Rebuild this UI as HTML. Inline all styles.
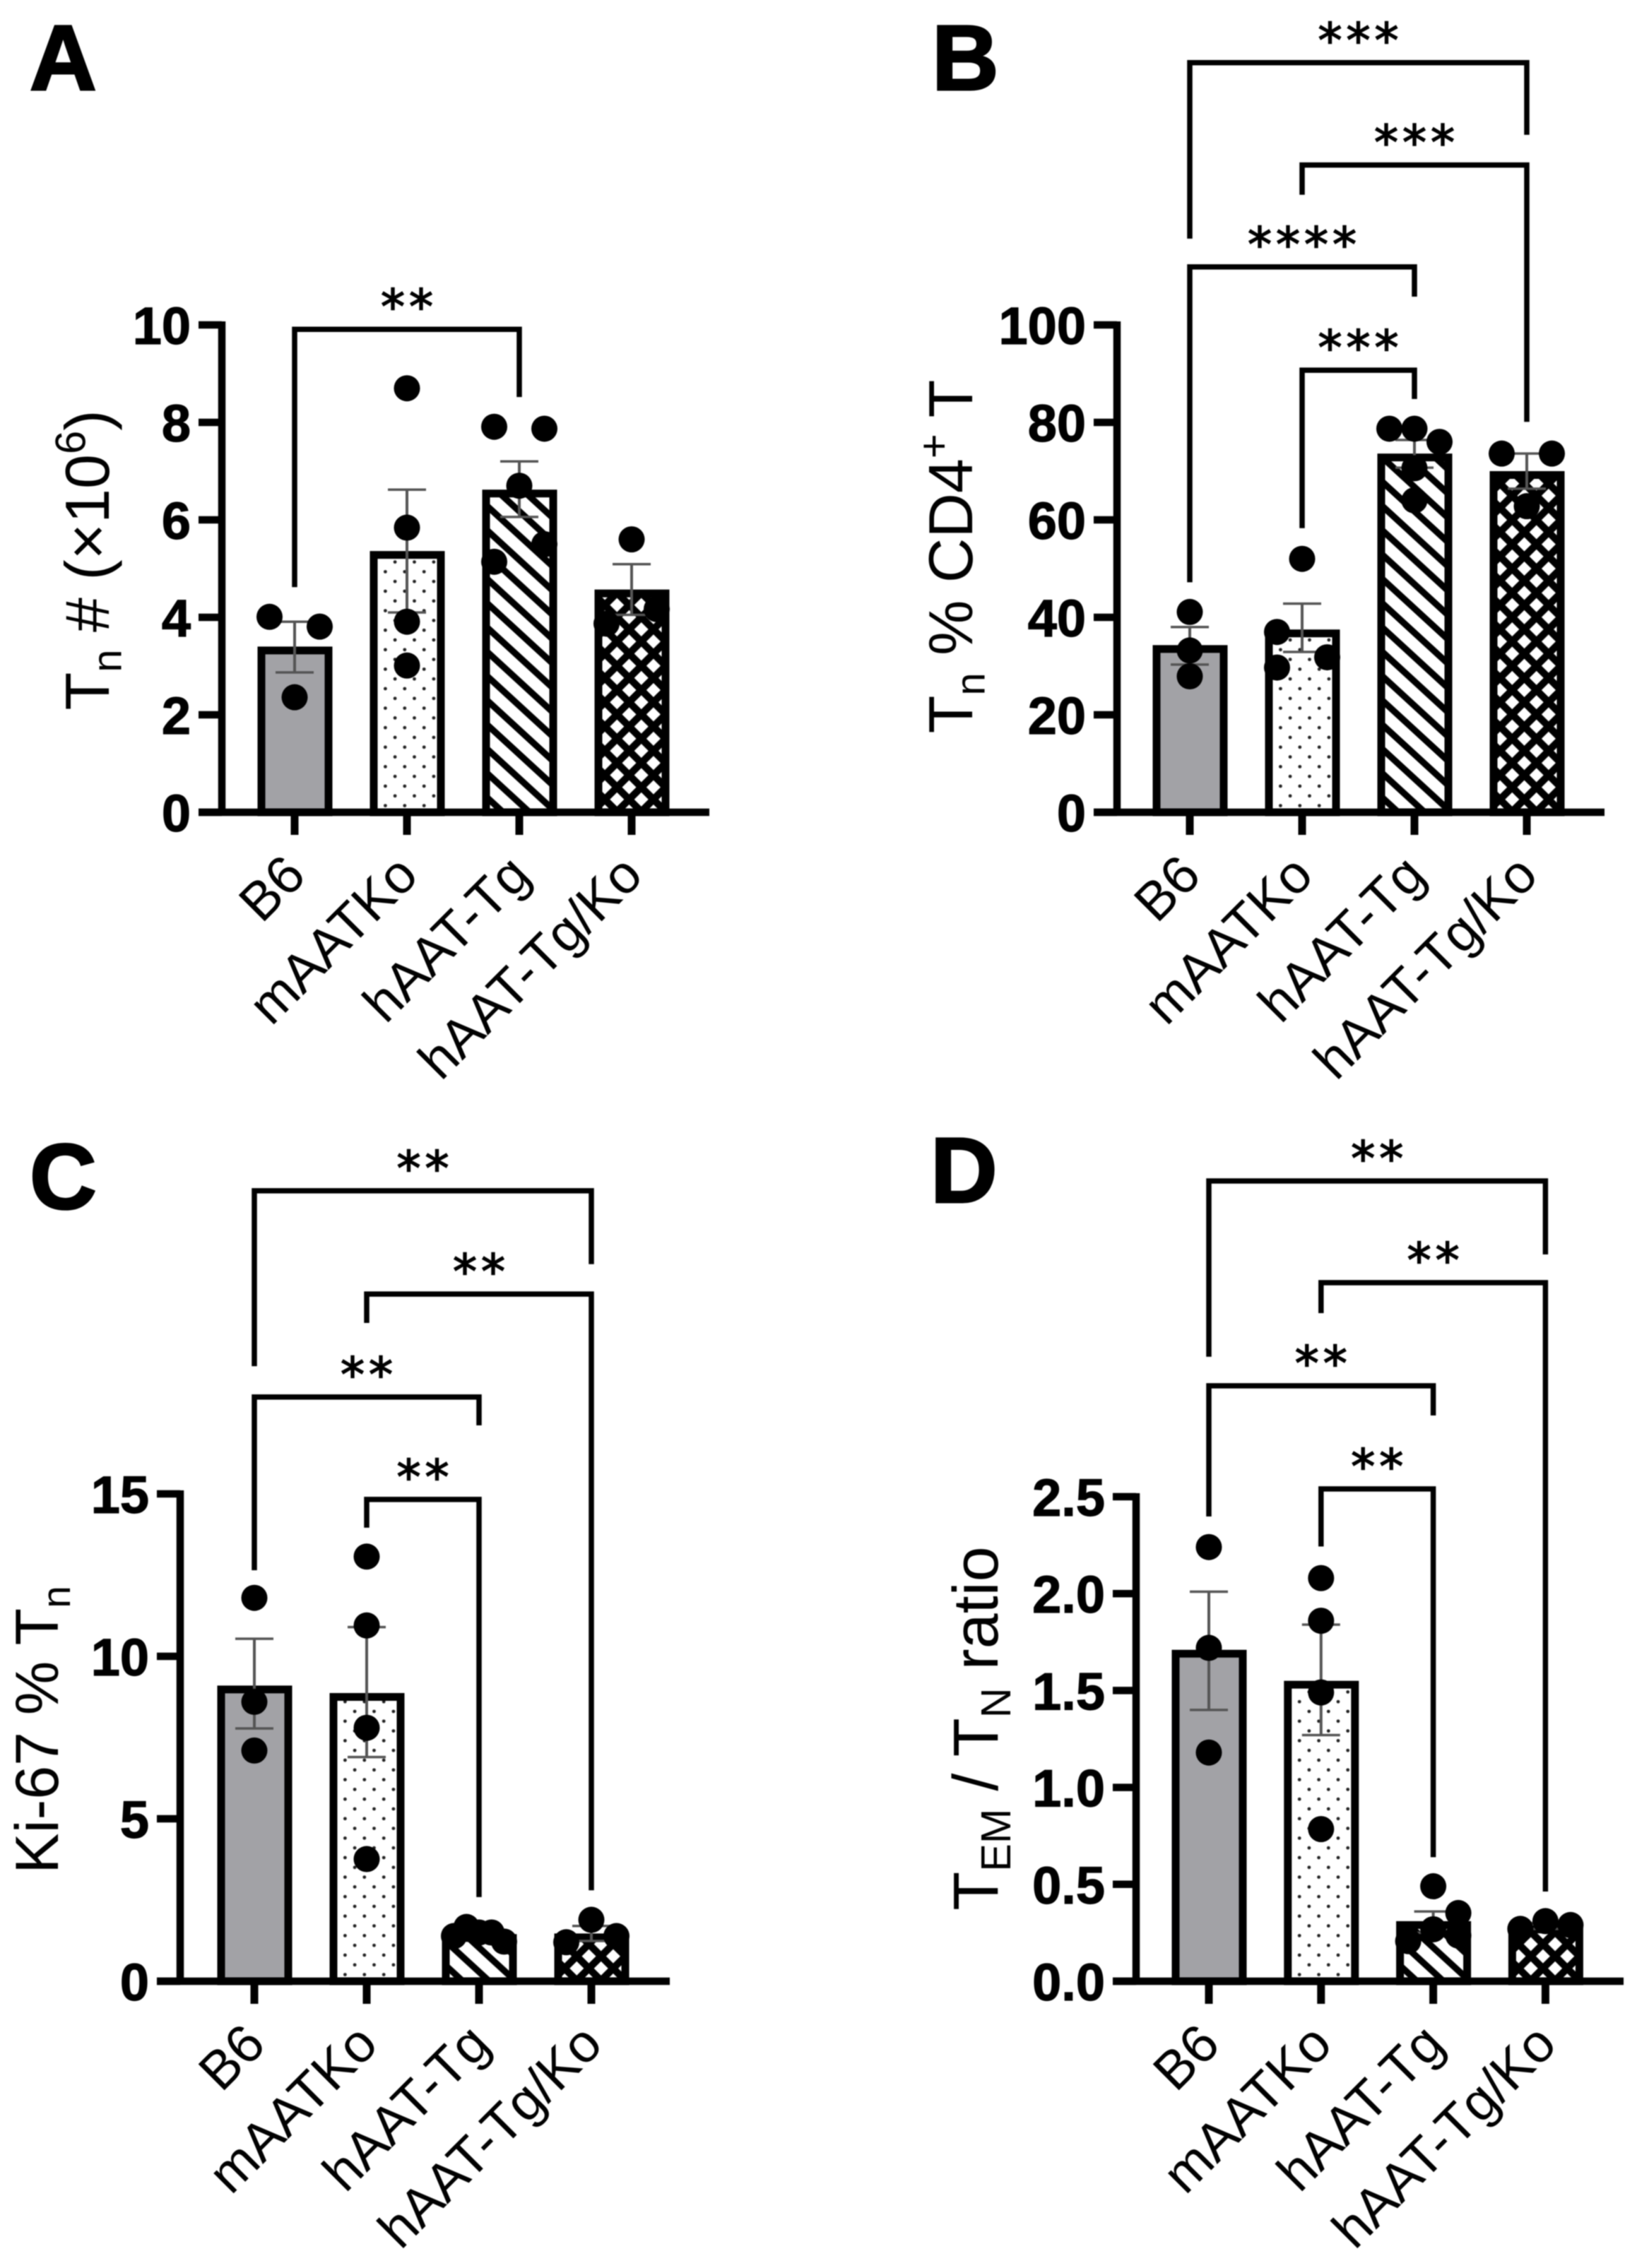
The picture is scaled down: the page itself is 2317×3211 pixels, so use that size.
<!DOCTYPE html>
<html lang="en">
<head>
<meta charset="utf-8">
<title>T cell panels A-D</title>
<style>
html,body{margin:0;padding:0;background:#fff;}
svg{display:block;filter:blur(0.7px);}
text{font-family:"Liberation Sans",Arial,sans-serif;fill:#000;}
</style>
</head>
<body>
<svg id="fig" xmlns="http://www.w3.org/2000/svg" width="2317" height="3211" viewBox="0 0 2317 3211">
<rect x="0" y="0" width="2317" height="3211" fill="#fff"/>
<defs>
<pattern id="fill-dots" patternUnits="userSpaceOnUse" width="27.4" height="27.6" patternTransform="translate(21.9,-9.4)">
<rect width="27.4" height="27.6" fill="#fff"/>
<circle cx="0" cy="0" r="2.4" fill="#222"/>
<circle cx="27.4" cy="0" r="2.4" fill="#222"/>
<circle cx="0" cy="27.6" r="2.4" fill="#222"/>
<circle cx="27.4" cy="27.6" r="2.4" fill="#222"/>
<circle cx="13.7" cy="13.8" r="2.4" fill="#222"/>
</pattern>
<pattern id="fill-stripes" patternUnits="userSpaceOnUse" width="37.4" height="34.4" patternTransform="translate(0,7.2)">
<rect width="37.4" height="34.4" fill="#fff"/>
<path d="M-37.4,-34.4L74.8,68.8M-37.4,0L37.4,68.8M0,-34.4L74.8,34.4" stroke="#000" stroke-width="9.2" fill="none"/>
</pattern>
<pattern id="fill-cross" patternUnits="userSpaceOnUse" width="34.4" height="34.4" patternTransform="translate(14.6,-1)">
<rect width="34.4" height="34.4" fill="#000"/>
<path d="M17.2,7.2L27.2,17.2L17.2,27.2L7.2,17.2Z" fill="#fff"/>
<path d="M0,-10L10,0L0,10L-10,0Z" fill="#fff"/>
<path d="M34.4,-10L44.4,0L34.4,10L24.4,0Z" fill="#fff"/>
<path d="M0,24.4L10,34.4L0,44.4L-10,34.4Z" fill="#fff"/>
<path d="M34.4,24.4L44.4,34.4L34.4,44.4L24.4,34.4Z" fill="#fff"/>
</pattern>
</defs>
</svg>
<script>
const categories = ["B6", "mAATKo", "hAAT-Tg", "hAAT-Tg/Ko"];
const barFills = ["#a2a2a6", "url(#fill-dots)", "url(#fill-stripes)", "url(#fill-cross)"];

// Panel A
const aTicks = [0, 2, 4, 6, 8, 10];
const aTickLabels = ["0", "2", "4", "6", "8", "10"];
const aMeans = [3.4, 5.36, 6.62, 4.57];
const aErrHigh = [3.91, 6.62, 7.2, 5.09];
const aErrLow = [2.87, 4.1, 6.06, 4.05];
const aPoints = [[4.01, 3.81, 2.36], [8.7, 5.84, 3.91, 3.01], [7.91, 7.87, 6.7, 5.5, 5.14], [5.6, 3.87, 4.17]];
const aSlots = [[-1, 1, 0], [0, 0, 0, 0], [-1, 1, 0, 1, -1], [0, -1, 1]];
const aBracketFrom = [0];
const aBracketTo = [2];
const aBracketLevel = [9.91];
const aBracketEndLeft = [4.62];
const aBracketEndRight = [8.52];
const aBracketStars = ["**"];

// Panel B
const bTicks = [0, 20, 40, 60, 80, 100];
const bTickLabels = ["0", "20", "40", "60", "80", "100"];
const bMeans = [34.3, 37.5, 73.6, 70];
const bErrHigh = [38, 42.8, 76.4, 73.6];
const bErrLow = [30.3, 32.9, 70.7, 66.4];
const bPoints = [[41.1, 33.2, 27.9], [52, 37, 31.8, 29.7], [78.7, 78.7, 76, 70.6, 64], [73.6, 73.6, 62.8]];
const bSlots = [[0, 0, 0], [0, -1, 1, -1], [-1, 0, 1, 0, 0], [-1, 1, 0]];
const bBracketFrom = [0, 1, 0, 1];
const bBracketTo = [3, 3, 2, 2];
const bBracketLevel = [153.8, 132.8, 111.9, 90.7];
const bBracketEndLeft = [117.7, 126.7, 47.2, 58.3];
const bBracketEndRight = [139, 80.1, 105.8, 84.8];
const bBracketStars = ["***", "***", "****", "***"];

// Panel C
const cTicks = [0, 5, 10, 15];
const cTickLabels = ["0", "5", "10", "15"];
const cMeans = [9.1, 8.87, 1.45, 1.47];
const cErrHigh = [10.54, 10.9, 1.55, 1.7];
const cErrLow = [7.78, 6.9, 1.35, 1.24];
const cPoints = [[11.8, 8.6, 7.1], [13.07, 10.95, 7.8, 3.76], [1.39, 1.67, 1.5, 1.5, 1.22], [1.89, 1.2, 1.39]];
const cSlots = [[0, 0, 0], [0, 0, 0, 0], [-1, -0.5, 0, 0.5, 1], [0, -1, 1]];
const cBracketFrom = [0, 1, 0, 1];
const cBracketTo = [3, 3, 2, 2];
const cBracketLevel = [24.33, 21.15, 17.98, 14.83];
const cBracketEndLeft = [18.93, 20.26, 12.65, 13.96];
const cBracketEndRight = [22.07, 2.8, 17.11, 2.59];
const cBracketStars = ["**", "**", "**", "**"];

// Panel D
const dTicks = [0, 0.5, 1, 1.5, 2, 2.5];
const dTickLabels = ["0.0", "0.5", "1.0", "1.5", "2.0", "2.5"];
const dMeans = [1.71, 1.55, 0.31, 0.287];
const dErrHigh = [2.01, 1.84, 0.36, 0.3];
const dErrLow = [1.4, 1.27, 0.25, 0.27];
const dPoints = [[2.24, 1.72, 1.18], [2.08, 1.86, 1.49, 0.785], [0.49, 0.352, 0.268, 0.207, 0.236], [0.27, 0.31, 0.29]];
const dSlots = [[0, 0, 0], [0, 0, 0, 0], [0, 1, 0, -1, 1], [-1, 0, 1]];
const dBracketFrom = [0, 1, 0, 1];
const dBracketTo = [3, 3, 2, 2];
const dBracketLevel = [4.129, 3.604, 3.072, 2.54];
const dBracketEndLeft = [3.222, 3.447, 2.398, 2.243];
const dBracketEndRight = [3.75, 0.463, 2.919, 0.64];
const dBracketStars = ["**", "**", "**", "**"];

const aTitle = [["T", ""], ["n", "sub"], [" # (\u00d710", ""], ["6", "sup"], [")", ""]];
const bTitle = [["T", ""], ["n", "sub"], [" % CD4", ""], ["+", "sup"], [" T", ""]];
const cTitle = [["Ki-67 % T", ""], ["n", "sub"]];
const dTitle = [["T", ""], ["EM", "sub"], [" / T", ""], ["N", "sub"], [" ratio", ""]];

const NS = "http://www.w3.org/2000/svg";
const fig = document.getElementById("fig");

function svgEl(tag, attrs, parent) {
  const el = document.createElementNS(NS, tag);
  for (const k in attrs) el.setAttribute(k, attrs[k]);
  parent.appendChild(el);
  return el;
}

function drawPanel(p) {
  const y = v => p.y0 - (v - p.min) * (p.y0 - p.yTop) / (p.max - p.min);
  const x = i => p.x0 + i * p.step;
  const swarmX = (i, s) => x(i) + s * 35.5;

  const g = svgEl("g", {}, fig);
  
  

  const letter = svgEl("text", { x: p.letterX, y: p.letterY, "font-size": 131, "font-weight": "bold", stroke: "#000", "stroke-width": 3 }, g);
  
  
  letter.textContent = p.id;

  // bars
  p.means.forEach((m, i) => {
    const bg = svgEl("g", { transform: "translate(" + (x(i) - 52.5) + "," + p.y0 + ")" }, g);
    
    
    const h = p.y0 - y(m);
    const bar = svgEl("rect", { x: 5.5, y: -h + 5.5, width: 95, height: Math.max(h - 5.5, 0), fill: barFills[i], stroke: "#000", "stroke-width": 11 }, bg);
    
    
  });

  // axes
  const yAxis = svgEl("line", { x1: p.axisX, x2: p.axisX, y1: p.yTop - 5, y2: p.y0 + 5, stroke: "#000", "stroke-width": 10.5 }, g);
  
  
  const xAxis = svgEl("line", { x1: p.axisX - 33, x2: p.axisEnd, y1: p.y0, y2: p.y0, stroke: "#000", "stroke-width": 10.5 }, g);
  
  

  p.ticks.forEach((t, i) => {
    const tick = svgEl("line", { x1: p.axisX - 33, x2: p.axisX, y1: y(t), y2: y(t), stroke: "#000", "stroke-width": 10.5 }, g);
    
    
    const lab = svgEl("text", { x: p.axisX - 44, y: y(t) + 27, "font-size": 74, "font-weight": "bold", "text-anchor": "end", stroke: "#000", "stroke-width": 1.2 }, g);
    
    
    lab.textContent = p.tickLabels[i];
  });

  categories.forEach((c, i) => {
    const tick = svgEl("line", { x1: x(i), x2: x(i), y1: p.y0, y2: p.y0 + 32, stroke: "#000", "stroke-width": 11 }, g);
    
    
    const ax = x(i) + 19, ay = p.y0 + 93;
    const lab = svgEl("text", { x: ax, y: ay, "font-size": 76, "text-anchor": "end", transform: "rotate(-45 " + ax + " " + ay + ")" }, g);
    
    
    lab.textContent = c;
  });

  // error bars
  p.means.forEach((m, i) => {
    const stem = svgEl("line", { x1: x(i), x2: x(i), y1: y(p.errHigh[i]), y2: y(p.errLow[i]), stroke: "#555", "stroke-width": 4 }, g);
    
    
    const capHi = svgEl("line", { x1: x(i) - 27, x2: x(i) + 27, y1: y(p.errHigh[i]), y2: y(p.errHigh[i]), stroke: "#555", "stroke-width": 3.5 }, g);
    
    
    const capLo = svgEl("line", { x1: x(i) - 27, x2: x(i) + 27, y1: y(p.errLow[i]), y2: y(p.errLow[i]), stroke: "#555", "stroke-width": 3.5 }, g);
    
    
  });

  // points
  p.points.forEach((vals, i) => {
    vals.forEach((v, j) => {
      const dot = svgEl("circle", { cx: swarmX(i, p.slots[i][j]), cy: y(v), r: 18.5, fill: "#000" }, g);
      
      
    });
  });

  // brackets
  p.bracketFrom.forEach((from, i) => {
    const xa = x(from), xb = x(p.bracketTo[i]), top = y(p.bracketLevel[i]);
    const d = "M" + xa + "," + y(p.bracketEndLeft[i]) + "V" + top + "H" + xb + "V" + y(p.bracketEndRight[i]);
    const br = svgEl("path", { d: d, fill: "none", stroke: "#000", "stroke-width": 7.5 }, g);
    
    
    const st = svgEl("text", { x: (xa + xb) / 2 + 3, y: top - 43 + 35, "font-size": 68, "letter-spacing": 6, "text-anchor": "middle", stroke: "#000", "stroke-width": 1.6, style: 'font-family:"DejaVu Sans",sans-serif' }, g);
    
    
    st.textContent = p.bracketStars[i];
  });

  // y title
  const title = svgEl("text", { x: p.titleX, y: p.titleY, "font-size": p.titleSize, "text-anchor": "middle", transform: "rotate(-90 " + p.titleX + " " + p.titleY + ")" }, g);
  
  
  let carry = 0;
  p.title.forEach(seg => {
    const ts = svgEl("tspan", {}, title);
    let target = 0;
    if (seg[1] === "sub") { ts.setAttribute("font-size", p.titleSize * 0.66); target = p.titleSize * 0.2; }
    if (seg[1] === "sup") { ts.setAttribute("font-size", p.titleSize * 0.68); target = -p.titleSize * 0.38; }
    const dy = target - carry;
    if (dy) ts.setAttribute("dy", dy);
    carry = target;
    ts.textContent = seg[0];
  });
}

drawPanel({ id: "A", x0: 417, step: 159, y0: 1150, yTop: 460, min: 0, max: 10, axisX: 314, axisEnd: 1004,
  ticks: aTicks, tickLabels: aTickLabels, means: aMeans, errHigh: aErrHigh, errLow: aErrLow, points: aPoints, slots: aSlots,
  bracketFrom: aBracketFrom, bracketTo: aBracketTo, bracketLevel: aBracketLevel, bracketEndLeft: aBracketEndLeft, bracketEndRight: aBracketEndRight, bracketStars: aBracketStars,
  title: aTitle, titleX: 154, titleY: 793, titleSize: 88, letterX: 42, letterY: 127 });

drawPanel({ id: "B", x0: 1684, step: 159, y0: 1150, yTop: 460, min: 0, max: 100, axisX: 1581, axisEnd: 2271,
  ticks: bTicks, tickLabels: bTickLabels, means: bMeans, errHigh: bErrHigh, errLow: bErrLow, points: bPoints, slots: bSlots,
  bracketFrom: bBracketFrom, bracketTo: bBracketTo, bracketLevel: bBracketLevel, bracketEndLeft: bBracketEndLeft, bracketEndRight: bBracketEndRight, bracketStars: bBracketStars,
  title: bTitle, titleX: 1376, titleY: 788, titleSize: 88, letterX: 1319, letterY: 127 });

drawPanel({ id: "C", x0: 360, step: 159, y0: 2805, yTop: 2115, min: 0, max: 15, axisX: 255, axisEnd: 948,
  ticks: cTicks, tickLabels: cTickLabels, means: cMeans, errHigh: cErrHigh, errLow: cErrLow, points: cPoints, slots: cSlots,
  bracketFrom: cBracketFrom, bracketTo: cBracketTo, bracketLevel: cBracketLevel, bracketEndLeft: cBracketEndLeft, bracketEndRight: cBracketEndRight, bracketStars: cBracketStars,
  title: cTitle, titleX: 82, titleY: 2449, titleSize: 86, letterX: 42, letterY: 1711 });

drawPanel({ id: "D", x0: 1711, step: 158.8, y0: 2805, yTop: 2119, min: 0, max: 2.5, axisX: 1608, axisEnd: 2298,
  ticks: dTicks, tickLabels: dTickLabels, means: dMeans, errHigh: dErrHigh, errLow: dErrLow, points: dPoints, slots: dSlots,
  bracketFrom: dBracketFrom, bracketTo: dBracketTo, bracketLevel: dBracketLevel, bracketEndLeft: dBracketEndLeft, bracketEndRight: dBracketEndRight, bracketStars: dBracketStars,
  title: dTitle, titleX: 1412, titleY: 2447, titleSize: 90, letterX: 1317, letterY: 1702 });
</script>
</body>
</html>
